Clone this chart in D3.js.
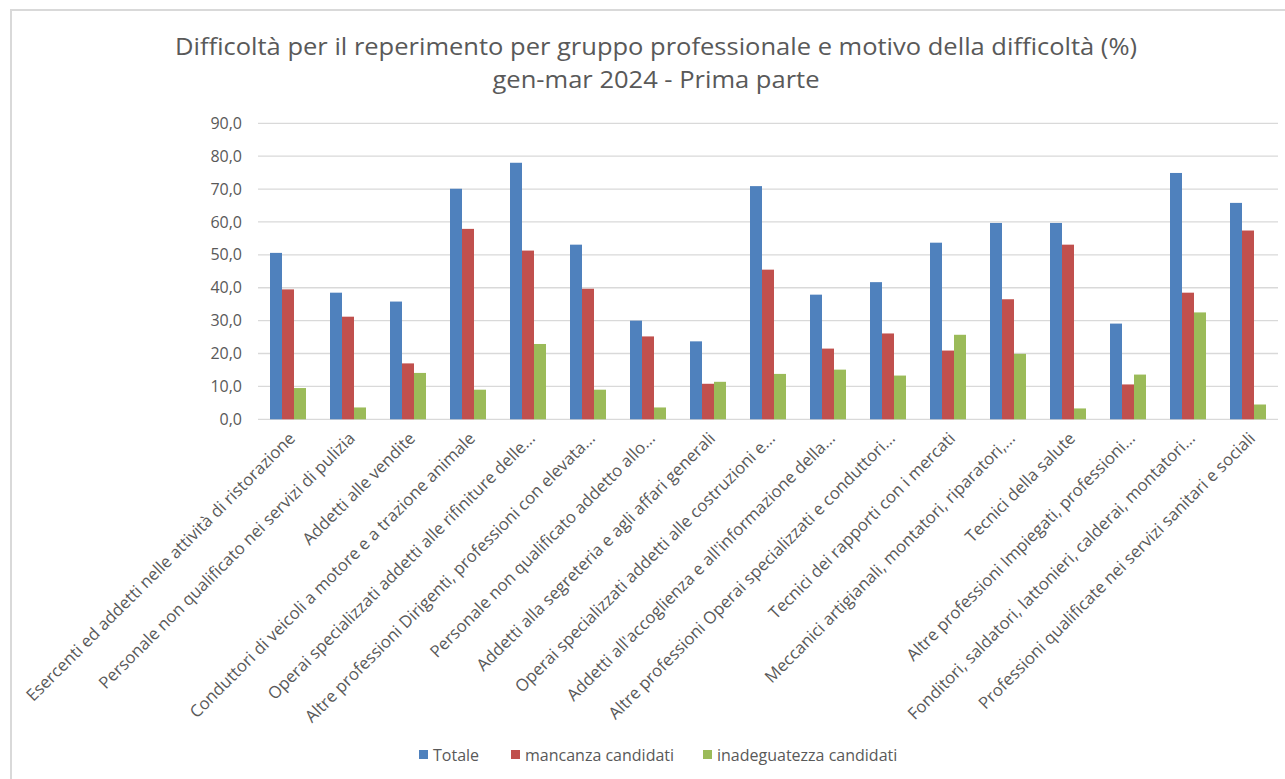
<!DOCTYPE html>
<html>
<head>
<meta charset="utf-8">
<script src="https://cdn.jsdelivr.net/npm/d3@7"></script>
<style>
  html, body { margin: 0; padding: 0; background: #fff; }
  svg { display: block; }
  text { font-family: "Open Sans", "Liberation Sans", sans-serif; fill: #595959; }
</style>
</head>
<body>
<svg id="chart" width="1285" height="779"></svg>
<script>
const categories = [
  "Esercenti ed addetti nelle attività di ristorazione",
  "Personale non qualificato nei servizi di pulizia",
  "Addetti alle vendite",
  "Conduttori di veicoli a motore e a trazione animale",
  "Operai specializzati addetti alle rifiniture delle...",
  "Altre professioni Dirigenti, professioni con elevata...",
  "Personale non qualificato addetto allo...",
  "Addetti alla segreteria e agli affari generali",
  "Operai specializzati addetti alle costruzioni e...",
  "Addetti all'accoglienza e all'informazione della...",
  "Altre professioni Operai specializzati e conduttori...",
  "Tecnici dei rapporti con i mercati",
  "Meccanici artigianali, montatori, riparatori,...",
  "Tecnici della salute",
  "Altre professioni Impiegati, professioni...",
  "Fonditori, saldatori, lattonieri, calderai, montatori...",
  "Professioni qualificate nei servizi sanitari e sociali"
];
const seriesNames = ["Totale", "mancanza candidati", "inadeguatezza candidati"];
const totale      = [50.6, 38.5, 35.8, 70.1, 78.0, 53.1, 30.0, 23.7, 70.9, 37.9, 41.7, 53.7, 59.7, 59.7, 29.1, 74.9, 65.8];
const mancanza    = [39.5, 31.2, 17.0, 57.9, 51.3, 39.7, 25.2, 10.8, 45.5, 21.5, 26.1, 20.9, 36.5, 53.1, 10.6, 38.5, 57.4];
const inadeguatezza = [9.5, 3.6, 14.1, 9.0, 22.9, 9.0, 3.6, 11.4, 13.8, 15.1, 13.3, 25.7, 19.9, 3.3, 13.6, 32.5, 4.5];
const yTicks = [0, 10, 20, 30, 40, 50, 60, 70, 80, 90];
const colors = ["#4F81BD", "#C0504D", "#9BBB59"];

const svg = d3.select("#chart");

// frame
svg.append("rect").attr("x", 11).attr("y", 10).attr("width", 1290).attr("height", 800)
  .attr("fill", "none").attr("stroke", "#D9D9D9").attr("stroke-width", 2);

const plotLeft = 258, plotRight = 1278, plotTop = 123.3, plotBottom = 419.3;
const x = d3.scaleBand().domain(categories).range([plotLeft, plotRight]).paddingInner(0.4).paddingOuter(0.2);
const xs = d3.scaleBand().domain(seriesNames).range([0, x.bandwidth()]);
const y = d3.scaleLinear().domain([0, 90]).range([plotBottom, plotTop]);

// gridlines
svg.append("g").selectAll("line").data(yTicks).join("line")
  .attr("x1", plotLeft).attr("x2", plotRight)
  .attr("y1", d => y(d)).attr("y2", d => y(d))
  .attr("stroke", "#D9D9D9").attr("stroke-width", 1.3);

// y axis labels
const yAxis = d3.axisLeft(y).tickValues(yTicks).tickSize(0).tickPadding(0)
  .tickFormat(d => d3.format(".1f")(d).replace(".", ","));
const yg = svg.append("g").attr("transform", `translate(242,0)`).call(yAxis);
yg.select(".domain").remove();
yg.selectAll("text").attr("font-size", 16).attr("fill", "#595959")
  .style("font-family", "'Open Sans', sans-serif");

// bars
const data = categories.map((c, i) => ({ c, vals: [totale[i], mancanza[i], inadeguatezza[i]] }));
const groups = svg.append("g").selectAll("g").data(data).join("g")
  .attr("transform", d => `translate(${x(d.c)},0)`);
groups.selectAll("rect").data(d => d.vals.map((v, k) => ({ v, k })))
  .join("rect")
  .attr("x", d => xs(seriesNames[d.k]))
  .attr("width", xs.bandwidth())
  .attr("y", d => y(d.v))
  .attr("height", d => y(0) - y(d.v))
  .attr("fill", d => colors[d.k]);

// x labels
const step = (plotRight - plotLeft) / categories.length;
svg.append("g").selectAll("text").data(categories).join("text")
  .attr("transform", (d, i) => `translate(${plotLeft + step * i + step / 2 + 4},${plotBottom + 16}) rotate(-45)`)
  .attr("text-anchor", "end")
  .attr("dy", "0.35em")
  .attr("font-size", 16.8)
  .text(d => d);

// title
svg.append("text").attr("x", 656).attr("y", 55).attr("text-anchor", "middle")
  .attr("font-size", 23).attr("textLength", 962).attr("lengthAdjust", "spacingAndGlyphs")
  .text("Difficoltà per il reperimento per gruppo professionale e motivo della difficoltà (%)");
svg.append("text").attr("x", 656).attr("y", 88).attr("text-anchor", "middle")
  .attr("font-size", 23).attr("textLength", 327).attr("lengthAdjust", "spacingAndGlyphs")
  .text("gen-mar 2024 - Prima parte");

// legend
const legendX = [419, 511, 703];
const lg = svg.append("g").selectAll("g").data(seriesNames).join("g")
  .attr("transform", (d, i) => `translate(${legendX[i]},755)`);
lg.append("rect").attr("x", 0).attr("y", -5).attr("width", 9).attr("height", 9).attr("fill", (d, i) => colors[i]);
lg.append("text").attr("x", 14).attr("y", 0).attr("dy", "0.35em").attr("font-size", 16).text(d => d);
</script>
</body>
</html>
